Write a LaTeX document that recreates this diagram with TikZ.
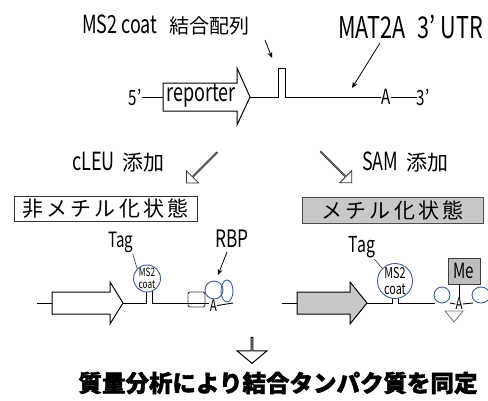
\documentclass[tikz,border=0pt]{standalone}
\usepackage{fontspec}
\setmainfont{Noto Sans CJK JP}
\newfontfamily\jpls{Noto Sans CJK JP}[LetterSpace=15]
\newfontfamily\latf{Noto Sans CJK JP}[FakeStretch=0.72]
\newfontfamily\jpheavy{Noto Sans CJK JP}[BoldFeatures={FakeBold=1.6}]
\usetikzlibrary{shapes.arrows,arrows.meta}
\definecolor{blobc}{RGB}{60,95,145}
\definecolor{boxgray}{RGB}{200,200,200}
\definecolor{megray}{RGB}{190,190,190}
\newcommand\jfs[1]{\fontsize{#1}{#1}\selectfont}
\newcommand\jfl[2]{\fontsize{#1}{#2}\selectfont}
\tikzset{
  lbl/.style={inner sep=0pt, text=black},
  bb/.style={line width=0.9pt, black},
  gene/.style={line width=1pt, draw=black, line join=miter},
  hol/.style={single arrow, draw=black!80, fill=white, line width=0.8pt, inner sep=0pt,
              single arrow tip angle=90, single arrow head indent=0pt},
  ptr/.style={line width=0.8pt, -{Stealth[length=6pt,width=5pt]}},
  blob/.style={draw=blobc, line width=0.9pt},
  coatc/.style={draw=blobc, line width=0.9pt, fill=white}
}
\begin{document}
\begin{tikzpicture}[x=1pt,y=-1pt]
\useasboundingbox (0,0) rectangle (488,400);

% ---------- top construct ----------
\node[lbl, anchor=west, font=\jfs{20}] (ms2lbl) at (82,25) {{\latf\jfs{25}MS2 coat}\hspace{12pt}結合配列};
\node[lbl, anchor=west, font=\latf\jfs{30}] (matlbl) at (338,27) {MAT2A\hspace{12pt}3’\hspace{5pt}UTR};

\coordinate (ms2from) at (265,40);
\coordinate (ms2to) at (272,58);
\draw[ptr] (ms2from) -- (ms2to);
\coordinate (matfrom) at (380,43);
\coordinate (matto) at (352,88);
\draw[ptr] (matfrom) -- (matto);

\node[lbl, font=\latf\jfs{21}] (five) at (135,97) {5’};
\node[lbl, font=\latf\jfs{21}] (atop) at (386,97) {A};
\node[lbl, font=\latf\jfs{21}] (three) at (423,97) {3’};
\coordinate (repback) at (163,97);
\coordinate (reptip) at (250,97);
\draw[gene, fill=white] (163,83) -- (237,83) -- (237,68) -- (reptip) -- (237,125) -- (237,111) -- (163,111) -- cycle;
\node[lbl, font=\latf\jfs{25}] (rep) at (201,96) {reporter};
\draw[bb] (five.east) ++(1,0) -- (repback);
\draw[bb] (reptip) -- (278,97) -- (278,68) -- (285,68) -- (285,97) -- (atop.west);
\draw[bb] (atop.east) -- (three.west);

% ---------- middle ----------
\node[lbl, anchor=west, font=\jfs{21}] (cleu) at (72,162) {{\latf\jfs{25}cLEU}\hspace{8pt}添加};
\node[lbl, anchor=west, font=\jfs{21}] (sam) at (362,162) {{\latf\jfs{25}SAM}\hspace{8pt}添加};
\node[hol, rotate=225, minimum height=43pt, minimum width=17pt, single arrow head extend=5pt] (arL) at (202,167.5) {};
\node[hol, rotate=-45, minimum height=44pt, minimum width=17pt, single arrow head extend=5pt] (arR) at (336,167) {};

\node[draw=black!80, line width=0.8pt, fill=white, minimum width=183pt, minimum height=25pt, inner sep=0pt,
      font=\jpls\jfs{21}] (unmet) at (105.5,208.5) {非メチル化状態};
\node[draw=black!70, line width=0.8pt, fill=boxgray, minimum width=181pt, minimum height=26pt, inner sep=0pt,
      font=\jpls\jfs{21}] (met) at (392.5,210) {メチル化状態};

% ---------- lower left ----------
\coordinate (lstart) at (37,303);
\coordinate (lback) at (52,303);
\coordinate (ltip) at (123,303);
\draw[bb] (lstart) -- (lback);
\draw[gene, fill=white] (52,292) -- (110,292) -- (110,282) -- (ltip) -- (110,324) -- (110,314) -- (52,314) -- cycle;
\draw[bb] (ltip) -- (146,303) -- (146,290);
\draw[bb] (152,290) -- (152,303) -- (209,303);
\draw[draw=black!75, line width=0.9pt, rounded corners=2pt] (188,292) rectangle (205,307);
\node[coatc, circle, minimum size=27pt, inner sep=0pt, font=\latf\jfl{11.5}{12}, align=center] (coatL) at (147,278.5) {MS2\\coat};
\node[lbl, font=\latf\jfs{21}] (tagL) at (121,242) {Tag};
\draw[line width=0.6pt, black!80] (tagL.south east) ++(-1,1) -- (coatL.north west);
\node[lbl, font=\latf\jfs{16}] (aL) at (213.5,305.5) {A};
\draw[bb] (aL.east) -- (233,303);
\draw[blob] (227,291) ellipse [x radius=6, y radius=11];
\draw[blob] (214,290) circle [radius=9];
\node[lbl, font=\latf\jfs{24}] (rbp) at (232,239) {RBP};
\coordinate (rbpto) at (218,275);
\draw[ptr] (rbp.south) ++(-5,4) -- (rbpto);

% ---------- lower right ----------
\coordinate (rstart) at (282,303);
\coordinate (rback) at (297,303);
\coordinate (rtip) at (367,303);
\draw[bb] (rstart) -- (rback);
\draw[gene, fill=boxgray] (297,292) -- (350,292) -- (350,282) -- (rtip) -- (350,324) -- (350,314) -- (297,314) -- cycle;
\draw[bb] (rtip) -- (392,303) -- (392,296);
\draw[bb] (398,296) -- (398,303) -- (435,303);
\node[coatc, circle, minimum size=35pt, inner sep=0pt, font=\latf\jfl{15}{15.5}, align=center] (coatR) at (395,281) {MS2\\coat};
\node[lbl, font=\latf\jfs{22}] (tagR) at (362,247) {Tag};
\draw[line width=0.6pt, black!80] (tagR.south east) ++(-1,1) -- (coatR.north west);
\node[lbl, font=\latf\jfs{16}] (aR) at (459,304) {A};
\draw[bb] (450,303) -- (aR.west);
\draw[bb] (aR.east) -- (473,303);
\draw[blob] (442,295) circle [radius=8];
\draw[blob] (481,295) ellipse [x radius=9, y radius=8];
\node[draw=black!75, line width=0.8pt, fill=megray, minimum width=32pt, minimum height=26pt, inner sep=0pt,
      font=\latf\jfs{21}] (me) at (464,271) {Me};
\draw[line width=0.7pt] (me.south -| aR) -- (aR.north);
\draw[draw=black!55, line width=0.8pt, fill=white] (445,311) -- (463,311) -- (454,322) -- cycle;

% ---------- bottom ----------
\node[hol, rotate=270, minimum height=26pt, minimum width=30pt, single arrow head extend=8.5pt,
      single arrow tip angle=100, draw=black, line width=1pt] (arD) at (252,350) {};
\node[lbl, font=\jpheavy\bfseries\jfs{23.5}] (concl) at (278,383) {質量分析により結合タンパク質を同定};
\end{tikzpicture}
\end{document}
